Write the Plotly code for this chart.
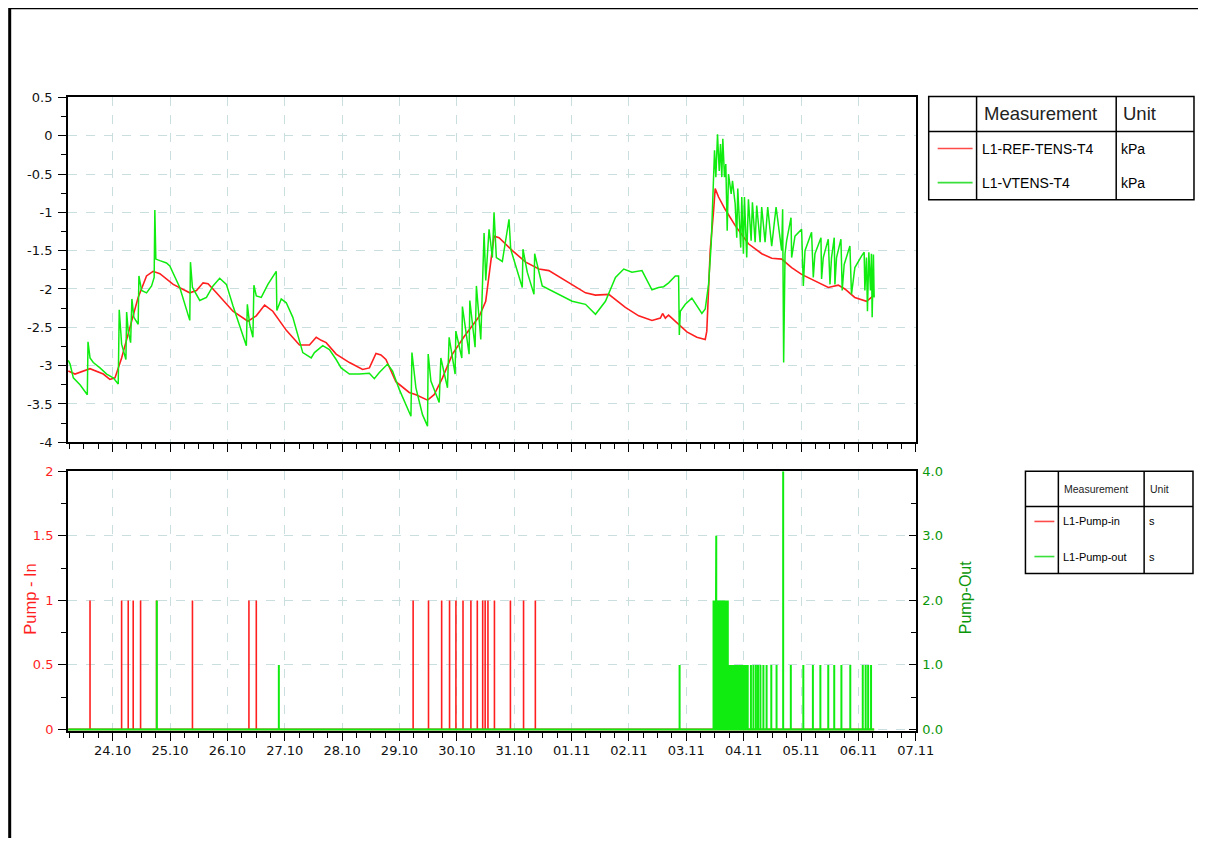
import plotly.graph_objects as go

# ---------------- data ----------------
YEAR = "2023"

ref_time = ["10-23 05:26", "10-23 08:15", "10-23 14:30", "10-23 20:05", "10-23 22:50", "10-24 00:58",
            "10-24 03:45", "10-24 07:15", "10-24 10:40", "10-24 14:10", "10-24 16:55", "10-24 19:45",
            "10-25 01:20", "10-25 08:15", "10-25 11:05", "10-25 13:50", "10-25 15:55", "10-25 19:25",
            "10-26 02:20", "10-26 08:35", "10-26 12:05", "10-26 15:35", "10-26 19:00", "10-27 00:40",
            "10-27 06:10", "10-27 10:20", "10-27 13:10", "10-27 15:15", "10-27 17:20", "10-27 21:30",
            "10-28 03:05", "10-28 08:35", "10-28 11:25", "10-28 14:10", "10-28 16:15", "10-28 18:20",
            "10-28 22:30", "10-29 04:05", "10-29 06:55", "10-29 11:45", "10-29 14:30", "10-29 18:00",
            "10-29 22:10", "10-30 03:05", "10-30 09:20", "10-30 12:05", "10-30 15:35", "10-30 17:40",
            "10-30 23:15", "10-31 04:50", "10-31 10:20", "10-31 14:30", "10-31 21:30", "11-01 05:50",
            "11-01 10:00", "11-01 15:35", "11-01 22:30", "11-02 04:05", "11-02 09:40", "11-02 13:10",
            "11-02 14:05", "11-02 15:15", "11-02 16:35", "11-02 20:45", "11-03 00:15", "11-03 04:25",
            "11-03 07:55", "11-03 08:35", "11-03 10:00", "11-03 11:25", "11-03 12:05", "11-03 13:30",
            "11-03 16:15", "11-03 20:25", "11-04 02:00", "11-04 07:35", "11-04 11:45", "11-04 15:55",
            "11-04 20:05", "11-05 00:15", "11-05 05:50", "11-05 11:25", "11-05 15:35", "11-05 18:20",
            "11-05 22:30", "11-06 03:25", "11-06 06:35"]
ref_kpa = [-3.07, -3.11, -3.04, -3.11, -3.18, -3.16,
           -2.90, -2.50, -2.11, -1.83, -1.77, -1.80,
           -1.94, -2.05, -2.02, -1.92, -1.93, -2.05,
           -2.29, -2.42, -2.35, -2.21, -2.29, -2.54,
           -2.73, -2.73, -2.63, -2.67, -2.70, -2.85,
           -2.96, -3.05, -3.03, -2.84, -2.86, -2.92,
           -3.21, -3.35, -3.38, -3.45, -3.38, -3.16,
           -2.85, -2.62, -2.36, -2.16, -1.31, -1.33,
           -1.50, -1.65, -1.74, -1.76, -1.89, -2.05,
           -2.08, -2.07, -2.24, -2.35, -2.41, -2.38,
           -2.32, -2.38, -2.34, -2.46, -2.56, -2.63,
           -2.66, -2.55, -1.50, -0.98, -0.69, -0.80,
           -0.96, -1.17, -1.41, -1.54, -1.60, -1.61,
           -1.72, -1.81, -1.89, -1.98, -1.95, -2.00,
           -2.11, -2.16, -2.08]

vtens_time = ["10-23 05:26", "10-23 06:11", "10-23 07:33", "10-23 10:21", "10-23 13:24", "10-23 13:41",
              "10-23 14:32", "10-23 15:54", "10-23 18:42", "10-23 21:30", "10-24 00:15", "10-24 02:20",
              "10-24 02:45", "10-24 03:45", "10-24 05:33", "10-24 05:51", "10-24 06:31", "10-24 07:31",
              "10-24 08:03", "10-24 08:53", "10-24 10:41", "10-24 10:59", "10-24 12:06", "10-24 14:11",
              "10-24 16:17", "10-24 17:22", "10-24 17:39", "10-24 18:04", "10-24 19:45", "10-24 22:32",
              "10-24 23:55", "10-25 04:05", "10-25 08:16", "10-25 08:33", "10-25 09:23", "10-25 12:26",
              "10-25 15:14", "10-25 17:59", "10-25 20:47", "10-25 23:35", "10-26 02:20", "10-26 05:50",
              "10-26 07:56", "10-26 08:21", "10-26 09:19", "10-26 10:41", "10-26 11:06", "10-26 12:06",
              "10-26 14:11", "10-26 16:57", "10-26 20:27", "10-26 20:42", "10-26 22:32", "10-27 00:38",
              "10-27 03:23", "10-27 06:11", "10-27 07:33", "10-27 11:04", "10-27 12:26", "10-27 15:54",
              "10-27 18:42", "10-27 21:30", "10-27 23:35", "10-28 03:03", "10-28 07:13", "10-28 11:23",
              "10-28 13:29", "10-28 15:34", "10-28 19:02", "10-28 21:07", "10-28 23:55", "10-29 04:48",
              "10-29 05:13", "10-29 06:53", "10-29 09:38", "10-29 11:44", "10-29 12:01", "10-29 13:09",
              "10-29 16:37", "10-29 17:19", "10-29 20:05", "10-29 20:47", "10-29 23:17", "10-29 23:35",
              "10-30 02:05", "10-30 02:20", "10-30 05:08", "10-30 05:26", "10-30 07:38", "10-30 08:11",
              "10-30 10:01", "10-30 11:24", "10-30 12:06", "10-30 13:29", "10-30 14:52", "10-30 15:34",
              "10-30 16:32", "10-30 19:02", "10-30 21:50", "10-30 22:32", "10-31 03:23", "10-31 03:40",
              "10-31 05:28", "10-31 08:16", "10-31 08:34", "10-31 11:44", "10-31 18:42", "11-01 00:15",
              "11-01 05:50", "11-01 10:01", "11-01 14:11", "11-01 18:22", "11-01 21:50", "11-02 01:17",
              "11-02 05:28", "11-02 09:38", "11-02 12:26", "11-02 14:31", "11-02 16:37", "11-02 19:25",
              "11-02 20:47", "11-02 21:05", "11-02 21:30", "11-02 23:35", "11-03 02:20", "11-03 04:26",
              "11-03 06:31", "11-03 07:56", "11-03 09:19", "11-03 10:26", "11-03 10:59", "11-03 11:49",
              "11-03 12:22", "11-03 13:04", "11-03 13:47", "11-03 14:19", "11-03 14:52", "11-03 15:17",
              "11-03 15:59", "11-03 16:32", "11-03 17:07", "11-03 17:40", "11-03 18:47", "11-03 19:20",
              "11-03 20:27", "11-03 21:07", "11-03 21:32", "11-03 22:15", "11-03 22:47", "11-03 23:13",
              "11-03 23:55", "11-04 00:20", "11-04 01:17", "11-04 02:00", "11-04 03:08", "11-04 03:40",
              "11-04 04:48", "11-04 05:28", "11-04 06:53", "11-04 07:33", "11-04 08:58", "11-04 10:04",
              "11-04 11:44", "11-04 13:34", "11-04 15:54", "11-04 16:19", "11-04 16:44", "11-04 17:19",
              "11-04 17:59", "11-04 19:49", "11-04 20:05", "11-04 21:29", "11-05 00:15", "11-05 00:58",
              "11-05 01:40", "11-05 04:25", "11-05 05:08", "11-05 05:50", "11-05 08:21", "11-05 08:36",
              "11-05 09:19", "11-05 11:24", "11-05 12:07", "11-05 12:46", "11-05 13:54", "11-05 14:11",
              "11-05 14:52", "11-05 16:42", "11-05 17:14", "11-05 18:04", "11-05 20:27", "11-05 21:07",
              "11-05 22:32", "11-06 01:18", "11-06 02:25", "11-06 02:43", "11-06 03:23", "11-06 03:48",
              "11-06 04:23", "11-06 05:03", "11-06 05:28", "11-06 05:46", "11-06 06:18", "11-06 06:36"]
vtens_kpa = [-2.93, -2.98, -3.16, -3.25, -3.38, -2.69,
             -2.90, -2.96, -3.03, -3.11, -3.16, -3.24,
             -2.27, -2.72, -2.92, -2.30, -2.55, -2.70,
             -2.13, -2.37, -2.46, -1.83, -2.02, -2.05,
             -1.96, -1.85, -0.97, -1.61, -1.63, -1.66,
             -1.70, -1.98, -2.41, -1.65, -1.98, -2.15,
             -2.11, -1.96, -1.86, -1.94, -2.22, -2.55,
             -2.74, -2.20, -2.46, -2.63, -1.95, -2.09,
             -2.11, -1.94, -1.77, -2.28, -2.13, -2.18,
             -2.37, -2.68, -2.83, -2.90, -2.83, -2.74,
             -2.79, -2.92, -3.03, -3.11, -3.11, -3.10,
             -3.17, -3.09, -2.98, -3.07, -3.31, -3.66,
             -2.83, -3.29, -3.64, -3.79, -2.85, -3.20,
             -3.48, -2.90, -3.29, -2.63, -3.11, -2.55,
             -2.90, -2.23, -2.85, -2.15, -2.76, -1.96,
             -2.66, -1.27, -1.89, -1.22, -1.59, -1.00,
             -1.59, -1.64, -1.09, -1.48, -1.98, -1.48,
             -1.78, -2.07, -1.54, -1.96, -2.07, -2.16,
             -2.20, -2.33, -2.16, -1.85, -1.74, -1.78,
             -1.76, -2.01, -1.98, -1.97, -1.92, -1.83,
             -1.83, -2.60, -2.29, -2.20, -2.12, -2.22,
             -2.32, -2.26, -1.94, -1.41, -0.98, -0.19,
             -0.54, 0.02, -0.46, -0.11, -0.54, -0.04,
             -0.54, -0.37, -1.24, -0.50, -0.76, -0.59,
             -0.89, -1.33, -0.69, -1.15, -1.46, -0.80,
             -1.54, -0.80, -1.59, -0.83, -1.37, -0.87,
             -1.39, -0.91, -1.39, -0.93, -1.39, -0.93,
             -1.44, -0.93, -1.50, -0.96, -2.96, -1.54,
             -1.37, -1.07, -1.59, -1.31, -1.22, -1.96,
             -1.50, -1.26, -1.85, -1.54, -1.33, -1.87,
             -1.59, -1.35, -1.94, -1.59, -1.33, -1.94,
             -1.59, -1.35, -2.02, -1.68, -1.44, -2.07,
             -1.72, -1.57, -1.52, -2.02, -1.59, -2.29,
             -1.52, -2.02, -1.54, -2.37, -1.55, -2.11]

# pump events (time of each pump run and its duration in seconds)
pump_in_time = ["10-23 14:32", "10-24 03:45", "10-24 06:31", "10-24 08:36", "10-24 11:41", "10-24 18:22",
                "10-25 09:23", "10-26 09:01", "10-26 12:06", "10-29 05:43", "10-29 12:09", "10-29 17:39",
                "10-29 20:57", "10-29 23:37", "10-30 02:35", "10-30 05:53", "10-30 08:34", "10-30 10:49",
                "10-30 11:51", "10-30 13:01", "10-30 15:44", "10-30 22:25", "10-31 03:55", "10-31 08:51"]
pump_in_sec = [1, 1, 1, 1, 1, 1,
               1, 1, 1, 1, 1, 1,
               1, 1, 1, 1, 1, 1,
               1, 1, 1, 1, 1, 1]

pump_out_time = ["10-24 18:29", "10-26 21:32", "11-02 21:12",
                 "11-03 11:24", "11-03 11:49", "11-03 12:14", "11-03 12:32", "11-03 12:52", "11-03 13:17",
                 "11-03 13:42", "11-03 14:07", "11-03 14:32", "11-03 14:57", "11-03 15:22", "11-03 15:47",
                 "11-03 16:07", "11-03 16:32", "11-03 16:57", "11-03 17:22", "11-03 17:47", "11-03 18:12",
                 "11-03 18:37", "11-03 19:02", "11-03 19:27", "11-03 19:52", "11-03 20:17", "11-03 20:42",
                 "11-03 21:07", "11-03 21:32", "11-03 21:57", "11-03 22:22", "11-03 22:47", "11-03 23:12",
                 "11-03 23:37", "11-04 00:02", "11-04 00:27", "11-04 00:52", "11-04 01:17", "11-04 01:42",
                 "11-04 03:03", "11-04 04:05", "11-04 05:08", "11-04 06:01", "11-04 07:01", "11-04 08:16",
                 "11-04 09:36", "11-04 11:34", "11-04 13:46", "11-04 16:32", "11-04 19:44", "11-05 00:58",
                 "11-05 04:58", "11-05 08:06", "11-05 11:24", "11-05 13:54", "11-05 16:54", "11-05 20:37",
                 "11-06 01:50", "11-06 03:03", "11-06 04:05", "11-06 05:18"]
pump_out_sec = [2.0, 1.0, 1.0,
                2.0, 2.0, 2.0, 3.0, 2.0, 2.0,
                2.0, 2.0, 2.0, 2.0, 2.0, 2.0,
                1.0, 2.0, 2.0, 2.0, 1.0, 1.0,
                1.0, 1.0, 1.0, 1.0, 1.0, 1.0,
                1.0, 1.0, 1.0, 1.0, 1.0, 1.0,
                1.0, 1.0, 1.0, 1.0, 1.0, 1.0,
                1.0, 1.0, 1.0, 1.0, 1.0, 1.0,
                1.0, 1.0, 1.0, 4.0, 1.0, 1.0,
                1.0, 1.0, 1.0, 1.0, 1.0, 1.0,
                1.0, 1.0, 1.0, 1.0]

record_start = "10-23 05:26"
record_end = "11-06 06:36"
axis_start = "10-23 05:20"
axis_end = "11-07 00:00"

top_tick_vals = [0.5, 0, -0.5, -1, -1.5, -2, -2.5, -3, -3.5, -4]
top_tick_text = ["0.5", "0", "-0.5", "-1", "-1.5", "-2", "-2.5", "-3", "-3.5", "-4"]

legend_top_rows = [("L1-REF-TENS-T4", "kPa"), ("L1-VTENS-T4", "kPa")]
legend_bot_rows = [("L1-Pump-in", "s"), ("L1-Pump-out", "s")]

assert len(ref_time) == len(ref_kpa)
assert len(vtens_time) == len(vtens_kpa)
assert len(pump_in_time) == len(pump_in_sec)
assert len(pump_out_time) == len(pump_out_sec)


# ---------------- helpers ----------------
def ts(lst):
    return [f"{YEAR}-{t}" for t in lst]


def pulses(times, vals):
    xs, ys = [f"{YEAR}-{record_start}"], [0]
    for t, v in zip(ts(times), vals):
        xs += [t, t, t]
        ys += [0, v, 0]
    xs.append(f"{YEAR}-{record_end}")
    ys.append(0)
    return xs, ys


W, H = 1190, 830
# observed placement of the figure in the photographed page
SX, OX = 0.9867, 7.8
SY, OY = 0.9795, 14.8


def fx(p):
    return ((p - OX) / SX) / W


def fy(p):
    return 1 - ((p - OY) / SY) / H


RED = "#ff1f1f"
GREEN = "#10ec10"
DKGREEN = "#0a960a"
GRID = "#c9dfdf"
FONT = "Liberation Sans, Arial, sans-serif"
TFONT = "DejaVu Sans, Verdana, sans-serif"
TICK = 13

fig = go.Figure()
fig.add_trace(go.Scatter(x=ts(ref_time), y=ref_kpa, mode="lines", line=dict(color=RED, width=1.6),
                         xaxis="x", yaxis="y", name="L1-REF-TENS-T4", showlegend=False))
fig.add_trace(go.Scatter(x=ts(vtens_time), y=vtens_kpa, mode="lines", line=dict(color=GREEN, width=1.5),
                         xaxis="x", yaxis="y", name="L1-VTENS-T4", showlegend=False))

px_in, py_in = pulses(pump_in_time, pump_in_sec)
px_out, py_out = pulses(pump_out_time, pump_out_sec)
fig.add_trace(go.Scatter(x=px_in, y=py_in, mode="lines", line=dict(color=RED, width=1.6),
                         xaxis="x2", yaxis="y2", name="L1-Pump-in", showlegend=False))
fig.add_trace(go.Scatter(x=px_out, y=py_out, mode="lines", line=dict(color=GREEN, width=2.0),
                         xaxis="x2", yaxis="y3", name="L1-Pump-out", showlegend=False))

DAY = 86400000
common_x = dict(type="date", range=[f"{YEAR}-{axis_start}", f"{YEAR}-{axis_end}"],
                tick0=f"{YEAR}-10-23", dtick=DAY, ticks="outside", ticklen=8, tickwidth=1.3,
                tickcolor="black",
                minor=dict(dtick=DAY / 4, ticks="outside", ticklen=5, tickwidth=1, tickcolor="black",
                           showgrid=False),
                showgrid=True, gridcolor=GRID, griddash="dash", gridwidth=1,
                showline=True, linecolor="black", linewidth=2, mirror=True, zeroline=False,
                tickfont=dict(family=TFONT, size=TICK, color="#111"),
                domain=[fx(68), fx(918)])

fig.update_layout(
    width=W, height=H, margin=dict(l=0, r=0, t=0, b=0),
    paper_bgcolor="white", plot_bgcolor="white",
    font=dict(family=FONT, size=TICK, color="black"),
    xaxis=dict(common_x, anchor="y", showticklabels=False),
    yaxis=dict(domain=[fy(441), fy(97)], anchor="x", range=[-4, 0.5],
               tickmode="array", tickvals=top_tick_vals, ticktext=top_tick_text,
               ticks="outside", ticklen=8, tickwidth=1.3, tickcolor="black", ticklabelstandoff=3,
               minor=dict(tickmode="linear", tick0=0, dtick=0.25, ticks="outside", ticklen=5,
                          tickcolor="black", showgrid=False),
               showgrid=True, gridcolor=GRID, griddash="dash", gridwidth=1, zeroline=False,
               showline=True, linecolor="black", linewidth=2, mirror=True,
               tickfont=dict(family=TFONT, size=TICK, color="#111")),
    xaxis2=dict(common_x, anchor="y2", showticklabels=True, tickformat="%d.%m", layer="below traces",
                ticklabelstandoff=-2),
    yaxis2=dict(domain=[fy(729), fy(470)], anchor="x2", range=[-0.012, 2],
                tick0=0, dtick=0.5, ticks="outside", ticklen=8, tickwidth=1.3, tickcolor="black",
                ticklabelstandoff=2,
                minor=dict(dtick=0.25, ticks="outside", ticklen=5, tickcolor="black", showgrid=False),
                showgrid=True, gridcolor=GRID, griddash="dash", gridwidth=1, zeroline=False,
                showline=True, linecolor="black", linewidth=2,
                tickfont=dict(family=TFONT, size=TICK, color=RED)),
    yaxis3=dict(overlaying="y2", side="right", anchor="x2", range=[-0.024, 4],
                tick0=0, dtick=1, tickformat=".1f", ticks="inside", ticklen=7, tickwidth=1.3,
                tickcolor="black", ticklabelstandoff=2,
                minor=dict(dtick=0.5, ticks="inside", ticklen=5, tickcolor="black", showgrid=False),
                showgrid=False, zeroline=False, showline=True, linecolor="black", linewidth=2,
                tickfont=dict(family=TFONT, size=TICK, color=DKGREEN)),
)

shapes = []
annotations = []

# axis titles of the lower panel
annotations.append(dict(xref="paper", yref="paper", x=fx(30), y=fy(597), text="Pump - In", textangle=-90,
                        showarrow=False, xanchor="center", yanchor="middle",
                        font=dict(family=FONT, size=16.5, color=RED)))
annotations.append(dict(xref="paper", yref="paper", x=fx(968), y=fy(596), text="Pump-Out", textangle=-90,
                        showarrow=False, xanchor="center", yanchor="middle",
                        font=dict(family=FONT, size=16, color=DKGREEN)))

# outer frame (top and left edges of the page frame)
shapes.append(dict(type="line", xref="paper", yref="paper", x0=fx(9.5), x1=1.05, y0=fy(7.5), y1=fy(7.5),
                   line=dict(color="black", width=3)))
shapes.append(dict(type="line", xref="paper", yref="paper", x0=fx(9.5), x1=fx(9.5), y0=fy(7.5), y1=-0.08,
                   line=dict(color="black", width=3)))


def table(x0, x1, y0, y1, c1, c2, rdiv, head_y, row_ys, rows, head_size, row_size, head_x, unit_x,
          sample, colors):
    shapes.append(dict(type="rect", xref="paper", yref="paper", x0=fx(x0), x1=fx(x1), y0=fy(y1), y1=fy(y0),
                       line=dict(color="black", width=1.5), fillcolor="rgba(0,0,0,0)"))
    for c in (c1, c2):
        shapes.append(dict(type="line", xref="paper", yref="paper", x0=fx(c), x1=fx(c), y0=fy(y1), y1=fy(y0),
                           line=dict(color="black", width=1.5)))
    shapes.append(dict(type="line", xref="paper", yref="paper", x0=fx(x0), x1=fx(x1), y0=fy(rdiv),
                       y1=fy(rdiv), line=dict(color="black", width=1.5)))
    annotations.append(dict(xref="paper", yref="paper", x=fx(head_x), y=fy(head_y), text="Measurement",
                            showarrow=False, xanchor="left", yanchor="middle",
                            font=dict(family=FONT, size=head_size, color="#222")))
    annotations.append(dict(xref="paper", yref="paper", x=fx(unit_x), y=fy(head_y), text="Unit",
                            showarrow=False, xanchor="left", yanchor="middle",
                            font=dict(family=FONT, size=head_size, color="#222")))
    for (name, unit), ry, col in zip(rows, row_ys, colors):
        shapes.append(dict(type="line", xref="paper", yref="paper", x0=fx(sample[0]), x1=fx(sample[1]),
                           y0=fy(ry), y1=fy(ry), line=dict(color=col, width=1.6)))
        annotations.append(dict(xref="paper", yref="paper", x=fx(c1 + 3), y=fy(ry), text=name,
                                showarrow=False, xanchor="left", yanchor="middle",
                                font=dict(family=FONT, size=row_size, color="black")))
        annotations.append(dict(xref="paper", yref="paper", x=fx(c2 + 3), y=fy(ry), text=unit,
                                showarrow=False, xanchor="left", yanchor="middle",
                                font=dict(family=FONT, size=row_size, color="black")))


table(931, 1197, 96, 199, 979, 1119, 131, 113, [148, 182], legend_top_rows, 18.5, 14, 984, 1124,
      (940, 975), ["#ff4a4a", "#3ae03a"])
table(1028, 1196, 470, 572, 1061, 1147, 505, 488, [520, 555], legend_bot_rows, 10.5, 11, 1065, 1151,
      (1037, 1057), ["#ff4a4a", "#3ae03a"])

fig.update_layout(shapes=shapes, annotations=annotations)

fig.write_html("out.html")
